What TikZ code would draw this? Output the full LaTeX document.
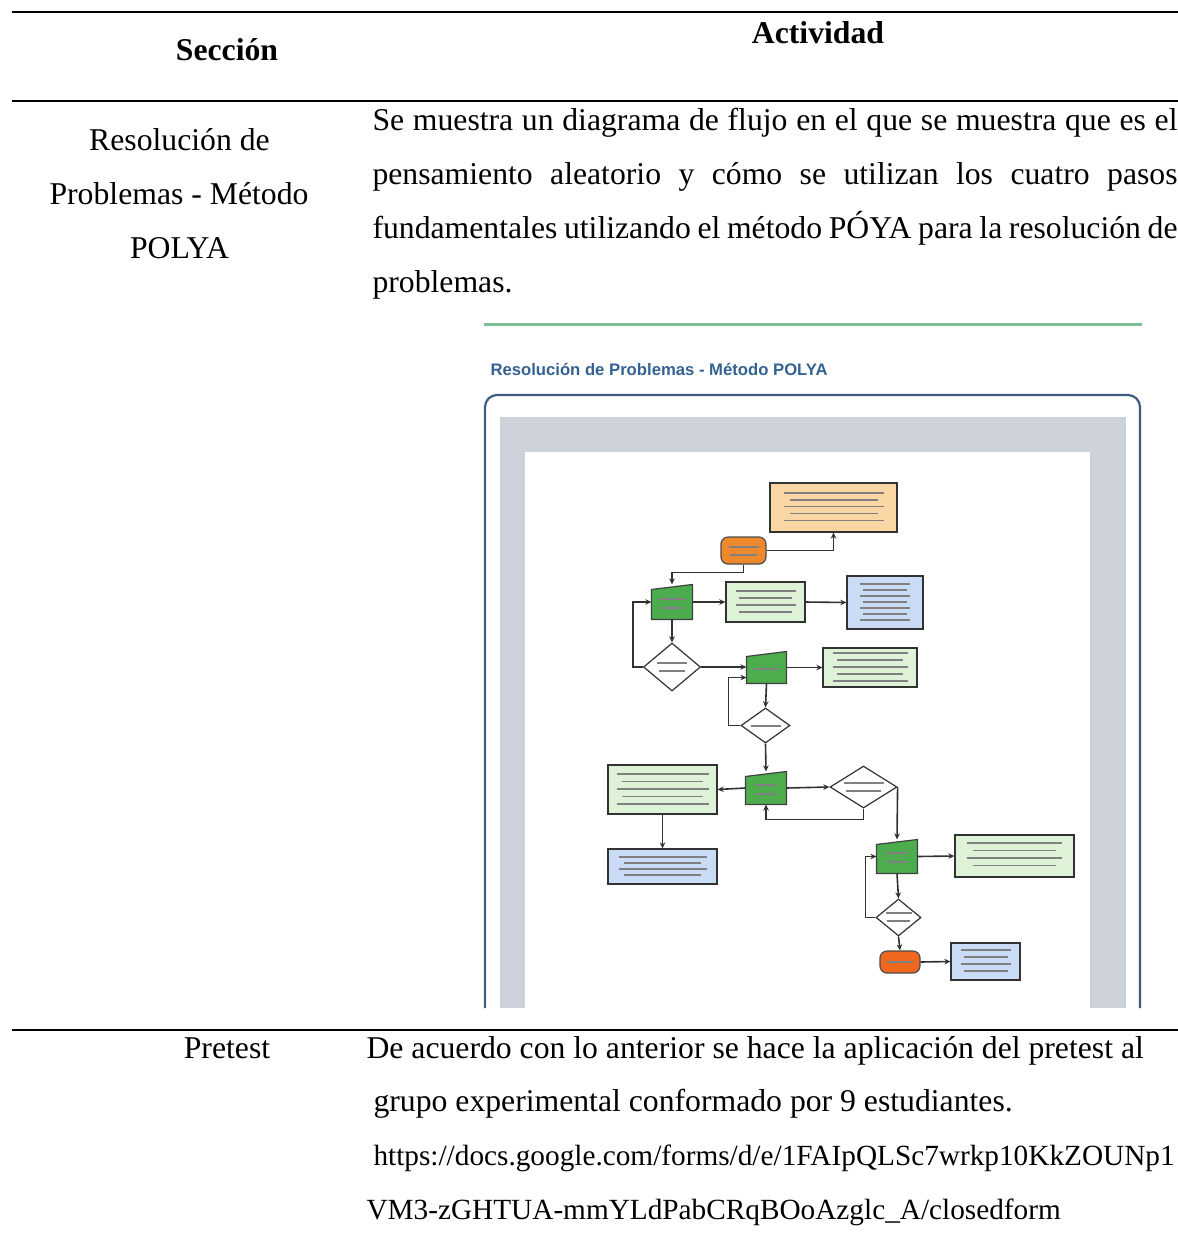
\documentclass[tikz,border=0pt]{standalone}
\usepackage{fontspec}
\usepackage{graphicx}
\setmainfont{Liberation Serif}
\newfontfamily\uisans{Liberation Sans}
\usetikzlibrary{arrows.meta,shapes.geometric,calc}
\newlength\pxu
\setlength\pxu{0.3785pt}
\newlength\jw
\setlength\jw{805\pxu}
\definecolor{peach}{RGB}{251,214,165}
\definecolor{orangeA}{RGB}{238,136,44}
\definecolor{orangeB}{RGB}{240,104,30}
\definecolor{gnode}{RGB}{76,172,78}
\definecolor{lgreen}{RGB}{222,242,216}
\definecolor{lblue}{RGB}{201,219,245}
\definecolor{panelgray}{RGB}{206,211,219}
\definecolor{framec}{RGB}{62,93,132}
\definecolor{greenline}{RGB}{125,190,150}
\definecolor{titleblue}{RGB}{52,98,146}
\definecolor{fline}{RGB}{50,50,50}
\newcommand\mkscrib[5]{%
  \foreach \k in {1,...,#4}{%
    \draw[scrib] ({#1-#3/2*(1-0.12*mod(\k+1,2))},{#2+(\k-1)*#5}) -- ({#1+#3/2*(1-0.12*mod(\k+1,2))},{#2+(\k-1)*#5});}}
\begin{document}
\begin{tikzpicture}[x=\pxu,y=-\pxu,
  rule/.style={line width=2\pxu,black},
  body/.style={font=\fontsize{12pt}{14pt}\selectfont,inner sep=0pt,anchor=base west},
  small/.style={font=\fontsize{11.08pt}{13pt}\selectfont,inner sep=0pt,anchor=base west},
  bodyc/.style={body,anchor=base},
  head/.style={font=\fontsize{12pt}{14pt}\selectfont\bfseries,inner sep=0pt,anchor=base},
  wh/.style 2 args={minimum width=#1\pxu,minimum height=#2\pxu,inner sep=0pt},
  fbox/.style={draw=fline,line width=1.2\pxu},
  ginv/.style={inner sep=0pt},
  gshape/.style={fill=gnode,draw=black!75,line width=1.2\pxu},
  dia/.style={diamond,draw=fline,line width=1.2\pxu,fill=white,inner sep=0pt},
  term/.style={draw=black!70,line width=1.2\pxu,rounded corners=7\pxu},
  conn/.style={draw=fline,line width=1.6\pxu,-{Stealth[length=2.3pt,width=2.1pt]}},
  scrib/.style={draw=black!50,line width=1.4\pxu}
]
\fill[white] (0,0) rectangle (1178,1234);
\useasboundingbox (0,0) rectangle (1178,1234);

% table rules
\draw[rule] (12,12) -- (1178,12);
\draw[rule] (12,101) -- (1178,101);
\draw[rule] (12,1030) -- (1178,1030);

% headers
\node[head] (hsec) at (227,60) {Sección};
\node[head] (hact) at (818,43) {Actividad};

% row 1
\node[bodyc] (s1) at (179.5,150) {Resolución de};
\node[bodyc] (s2) at (179,204) {Problemas - Método};
\node[bodyc] (s3) at (179.5,258) {POLYA};
\node[body] (a1) at (372,130) {\makebox[\jw][s]{Se muestra un diagrama de flujo en el que se muestra que es el}};
\node[body] (a2) at (372,184) {\makebox[\jw][s]{pensamiento aleatorio y cómo se utilizan los cuatro pasos}};
\node[body] (a3) at (372,238) {\makebox[\jw][s]{fundamentales utilizando el método PÓYA para la resolución de}};
\node[body] (a4) at (372,292) {problemas.};

% row 2
\node[bodyc] (p0) at (227,1058) {Pretest};
\node[body] (p1) at (366,1058) {De acuerdo con lo anterior se hace la aplicación del pretest al};
\node[body] (p2) at (373,1111) {grupo experimental conformado por 9 estudiantes.};
\node[small] (p3) at (373,1165) {https://docs.google.com/forms/d/e/1FAIpQLSc7wrkp10KkZOUNp1};
\node[small] (p4) at (366,1219) {VM3-zGHTUA-mmYLdPabCRqBOoAzglc\_A/closedform};

% screenshot
\draw[greenline,line width=3\pxu] (484,324) -- (1142,324);
\node[anchor=base west,inner sep=0pt,text=titleblue] (title) at (490,375)
  {\resizebox{337\pxu}{!}{\uisans\bfseries Resolución de Problemas - Método POLYA}};
\fill[panelgray] (500,417) rectangle (1126,1008);
\fill[white] (525,452) rectangle (1090,1008);
\draw[framec,line width=2.2\pxu,rounded corners=12\pxu] (485,1008) -- (485,395) -- (1140,395) -- (1140,1008);

% flowchart nodes
\node[fbox,fill=peach,wh={127}{49}] (pa) at (833.5,507.5) {};
\node[term,fill=orangeA,wh={45}{27}] (rp) at (743.5,550.5) {};
\node[ginv,wh={40}{34}] (g1) at (672,602) {};
\node[fbox,fill=lgreen,wh={79}{40}] (lg1) at (765.5,602) {};
\node[fbox,fill=lblue,wh={76}{53}] (b1) at (885,602.5) {};
\node[dia,wh={57}{48}] (d1) at (672,667) {};
\node[ginv,wh={39}{31}] (g2) at (766.5,667.5) {};
\node[fbox,fill=lgreen,wh={94}{39}] (lg2) at (870,667.5) {};
\node[dia,wh={49}{35}] (d2) at (765.5,725.5) {};
\node[ginv,wh={40}{32}] (g3) at (766,788) {};
\node[fbox,fill=lgreen,wh={109}{49}] (lg3) at (662.5,789.5) {};
\node[fbox,fill=lblue,wh={109}{35}] (b3) at (662.5,866.5) {};
\node[dia,wh={67}{42}] (d3) at (863.5,787) {};
\node[ginv,wh={40}{33}] (g4) at (897,856.5) {};
\node[fbox,fill=lgreen,wh={119}{42}] (lg4) at (1014.5,856) {};
\node[dia,wh={45}{37}] (d4) at (898.5,917.5) {};
\node[term,fill=orangeB,wh={40}{22}] (en) at (900,962) {};
\node[fbox,fill=lblue,wh={69}{37}] (b5) at (985.5,961.5) {};

% manual input shapes
\foreach \g in {g1,g2,g3,g4}{
  \filldraw[gshape] (\g.south west) -- (\g.south east) -- (\g.north east) -- ($(\g.north west)+(0,5)$) -- cycle;
}

% illegible text (rendered as faint strokes)
\mkscrib{833.5}{493}{100}{5}{6.8}
\mkscrib{743.5}{547}{30}{2}{8}
\mkscrib{672}{599}{28}{2}{9}
\mkscrib{765.5}{591}{60}{4}{7}
\mkscrib{885}{584}{50}{7}{6}
\mkscrib{672}{663}{30}{2}{8}
\mkscrib{766.5}{669}{25}{1}{8}
\mkscrib{870}{653}{75}{5}{7}
\mkscrib{765.5}{726}{30}{1}{8}
\mkscrib{766}{785}{22}{2}{9}
\mkscrib{662.5}{774}{92}{5}{7.5}
\mkscrib{662.5}{857}{88}{4}{6}
\mkscrib{863.5}{783}{40}{2}{8}
\mkscrib{897}{853}{22}{2}{9}
\mkscrib{1014.5}{843}{95}{4}{7.5}
\mkscrib{898.5}{913}{26}{2}{8}
\mkscrib{900}{962}{26}{1}{8}
\mkscrib{985.5}{950}{50}{4}{7}

% connectors
\draw[conn] (rp.east) -| (pa.south);
\draw[conn] (rp.south) -- ++(0,8) -| (g1.north);
\draw[conn] (g1.east) -- (lg1.west);
\draw[conn] (lg1.east) -- (b1.west);
\draw[conn] (g1.south) -- (d1.north);
\draw[conn] (d1.west) -- ++(-10,0) |- (g1.west);
\draw[conn] (d1.east) -- (d1.east -| g2.west);
\draw[conn] (g2.east) -- (lg2.west);
\draw[conn] (g2.south) -- (d2.north);
\coordinate (g2in) at ($(g2.west)+(0,10)$);
\draw[conn] (d2.west) -- ++(-12,0) |- (g2in);
\draw[conn] (d2.south) -- (g3.north);
\draw[conn] (g3.west) -- (lg3.east);
\draw[conn] (lg3.south) -- (b3.north);
\draw[conn] (g3.east) -- (d3.west);
\draw[conn] (d3.south) -- ++(0,11) -| (g3.south);
\draw[conn] (d3.east) -- (g4.north);
\draw[conn] (g4.east) -- (lg4.west);
\draw[conn] (g4.south) -- (d4.north);
\draw[conn] (d4.west) -- ++(-10,0) |- (g4.west);
\draw[conn] (d4.south) -- (en.north);
\draw[conn] (en.east) -- (b5.west);
\end{tikzpicture}
\end{document}
